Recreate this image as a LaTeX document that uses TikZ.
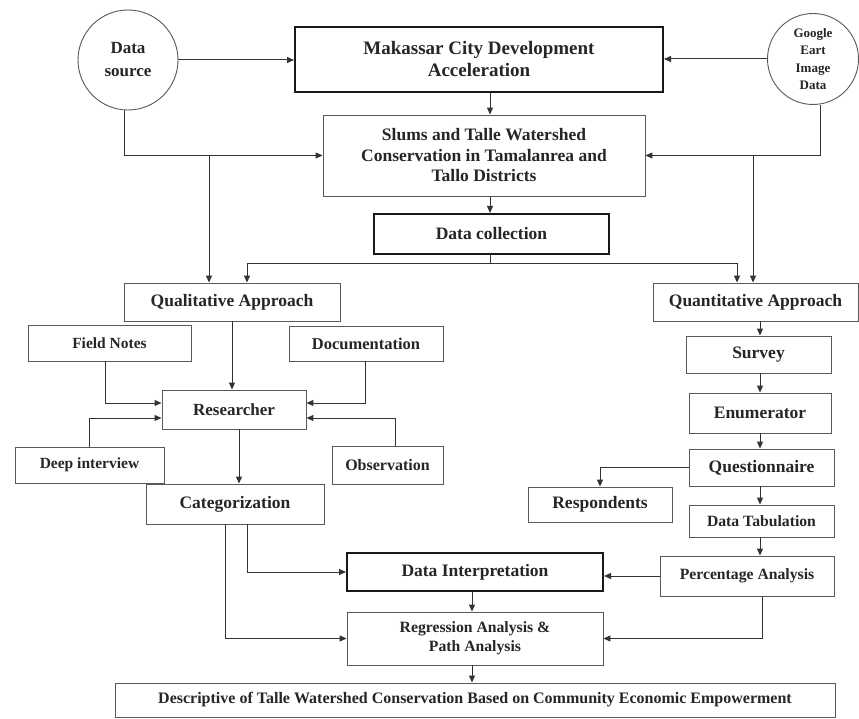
\documentclass[tikz,border=0pt]{standalone}
\usepackage{fontspec}
\setmainfont{Liberation Serif}
\usetikzlibrary{arrows.meta,calc}
\newcommand{\fs}[1]{\fontsize{#1}{1.2*#1}\selectfont}
\tikzset{
  bx/.style={draw=black!65, line width=0.9pt, rectangle, inner sep=1pt, align=center, text=black!85, font=\bfseries\fontsize{17.5}{21}\selectfont},
  tbx/.style={bx, draw=black!90, line width=2pt},
  circ/.style={draw=black!65, line width=0.9pt, circle, inner sep=0pt, align=center, text=black!85},
  arr/.style={draw=black!80, line width=1pt, -{Triangle[length=7pt,width=6pt]}},
  ln/.style={draw=black!80, line width=1pt}
}
\begin{document}
\begin{tikzpicture}[x=1pt,y=-1pt]
\useasboundingbox[fill=white] (0,0) rectangle (859,719);
% nodes
\node[circ, minimum size=100pt, font=\bfseries\fontsize{17}{23}\selectfont] (dsrc) at (128,60) {Data\\source};
\node[circ, minimum size=91pt, font=\bfseries\fontsize{13}{17.5}\selectfont] (google) at (813,59) {Google\\Eart\\Image\\Data};
\node[tbx, minimum width=368pt, minimum height=65pt, font=\bfseries\fontsize{19}{22}\selectfont] (mak) at (479,59.5) {Makassar City Development\\Acceleration};
\node[bx, minimum width=322pt, minimum height=81pt, font=\bfseries\fontsize{17.5}{20.5}\selectfont] (slums) at (484,155.5) {Slums and Talle Watershed\\Conservation in Tamalanrea and\\Tallo Districts};
\node[tbx, minimum width=235pt, minimum height=40pt] (dcol) at (491.5,234) {Data collection};
\node[bx, minimum width=216pt, minimum height=38pt] (qual) at (232,302) {Qualitative Approach};
\node[bx, minimum width=205pt, minimum height=38pt] (quant) at (755.5,302) {Quantitative Approach};
\node[bx, minimum width=163pt, minimum height=36pt, font=\bfseries\fontsize{15.5}{19}\selectfont] (fnotes) at (109.5,343) {Field Notes};
\node[bx, minimum width=154pt, minimum height=35pt, font=\bfseries\fontsize{16.5}{19}\selectfont] (docu) at (366,343.5) {Documentation};
\node[bx, minimum width=144pt, minimum height=39pt, font=\bfseries\fontsize{17}{20}\selectfont] (res) at (234,409.5) {Researcher};
\node[bx, minimum width=149pt, minimum height=36pt, font=\bfseries\fontsize{15.5}{19}\selectfont] (deep) at (89.5,465) {Deep interview};
\node[bx, minimum width=111pt, minimum height=38pt, font=\bfseries\fontsize{16}{19}\selectfont] (obs) at (387.5,465) {Observation};
\node[bx, minimum width=178pt, minimum height=40pt] (cat) at (235,504) {Categorization};
\node[bx, minimum width=145pt, minimum height=37pt] (survey) at (758.5,354.5) {Survey};
\node[bx, minimum width=142pt, minimum height=40pt] (enum) at (760,413) {Enumerator};
\node[bx, minimum width=145pt, minimum height=37pt] (quest) at (761.5,467.5) {Questionnaire};
\node[bx, minimum width=144pt, minimum height=35pt] (resp) at (600,504.5) {Respondents};
\node[bx, minimum width=145pt, minimum height=32pt, font=\bfseries\fontsize{15.7}{19}\selectfont] (dtab) at (761.5,521) {Data Tabulation};
\node[bx, minimum width=174pt, minimum height=40pt, font=\bfseries\fontsize{15.7}{19}\selectfont] (perc) at (747,576) {Percentage Analysis};
\node[tbx, minimum width=256pt, minimum height=38pt] (dint) at (475,572) {Data Interpretation};
\node[bx, minimum width=256pt, minimum height=53pt, font=\bfseries\fontsize{15.7}{19}\selectfont] (reg) at (475,638.5) {Regression Analysis \&\\Path Analysis};
\node[bx, minimum width=720pt, minimum height=34pt, font=\bfseries\fontsize{16}{19}\selectfont] (desc) at (475,700) {Descriptive of Talle Watershed Conservation Based on Community Economic Empowerment};
% helper coordinates
\coordinate (cx) at (490,0);
\coordinate (bl) at (209,0);
\coordinate (br) at (753,0);
\coordinate (hb) at (490,264);
\coordinate (q1) at (247,0);
\coordinate (q2) at (737,0);
\coordinate (r1) at (239,0);
\coordinate (colR) at (760,0);
\coordinate (pr) at (762,0);
\coordinate (cM) at (472,0);
\coordinate (c1) at (247,0);
\coordinate (c2) at (225,0);
\coordinate (fx) at (105,0);
\coordinate (dx) at (89,0);
\coordinate (ox) at (395,0);
\coordinate (docx) at (365,0);
\coordinate (ry1) at (0,403);
\coordinate (ry2) at (0,418);
\coordinate (dsx) at (124,0);
\coordinate (gx) at (820,0);
% connectors
\draw[arr] (dsrc.east) -- (dsrc.east -| mak.west);
\draw[arr] (google.west) -- (google.west -| mak.east);
\draw[arr] (cx |- mak.south) -- (cx |- slums.north);
\draw[arr] (dsx |- dsrc.south) |- (slums.west);
\draw[arr] (gx |- google.south) |- (slums.east);
\draw[arr] (bl |- slums.west) -- (bl |- qual.north);
\draw[arr] (br |- slums.east) -- (br |- quant.north);
\draw[arr] (cx |- slums.south) -- (cx |- dcol.north);
\draw[ln] (cx |- dcol.south) -- (hb);
\draw[arr] (hb) -| (q1 |- qual.north);
\draw[arr] (hb) -| (q2 |- quant.north);
\draw[arr] (qual.south) -- (qual.south |- res.north);
\draw[arr] (fx |- fnotes.south) |- (ry1 -| res.west);
\draw[arr] (dx |- deep.north) |- (ry2 -| res.west);
\draw[arr] (docx |- docu.south) |- (ry1 -| res.east);
\draw[arr] (ox |- obs.north) |- (ry2 -| res.east);
\draw[arr] (r1 |- res.south) -- (r1 |- cat.north);
\draw[arr] (colR |- quant.south) -- (colR |- survey.north);
\draw[arr] (colR |- survey.south) -- (colR |- enum.north);
\draw[arr] (colR |- enum.south) -- (colR |- quest.north);
\draw[arr] (colR |- quest.south) -- (colR |- dtab.north);
\draw[arr] (colR |- dtab.south) -- (colR |- perc.north);
\draw[arr] (quest.west) -| (resp.north);
\draw[arr] (perc.west) -- (perc.west -| dint.east);
\draw[arr] (cM |- dint.south) -- (cM |- reg.north);
\draw[arr] (pr |- perc.south) |- (reg.east);
\draw[arr] (c1 |- cat.south) |- (dint.west);
\draw[arr] (c2 |- cat.south) |- (reg.west);
\draw[arr] (cM |- reg.south) -- (cM |- desc.north);
\end{tikzpicture}
\end{document}
